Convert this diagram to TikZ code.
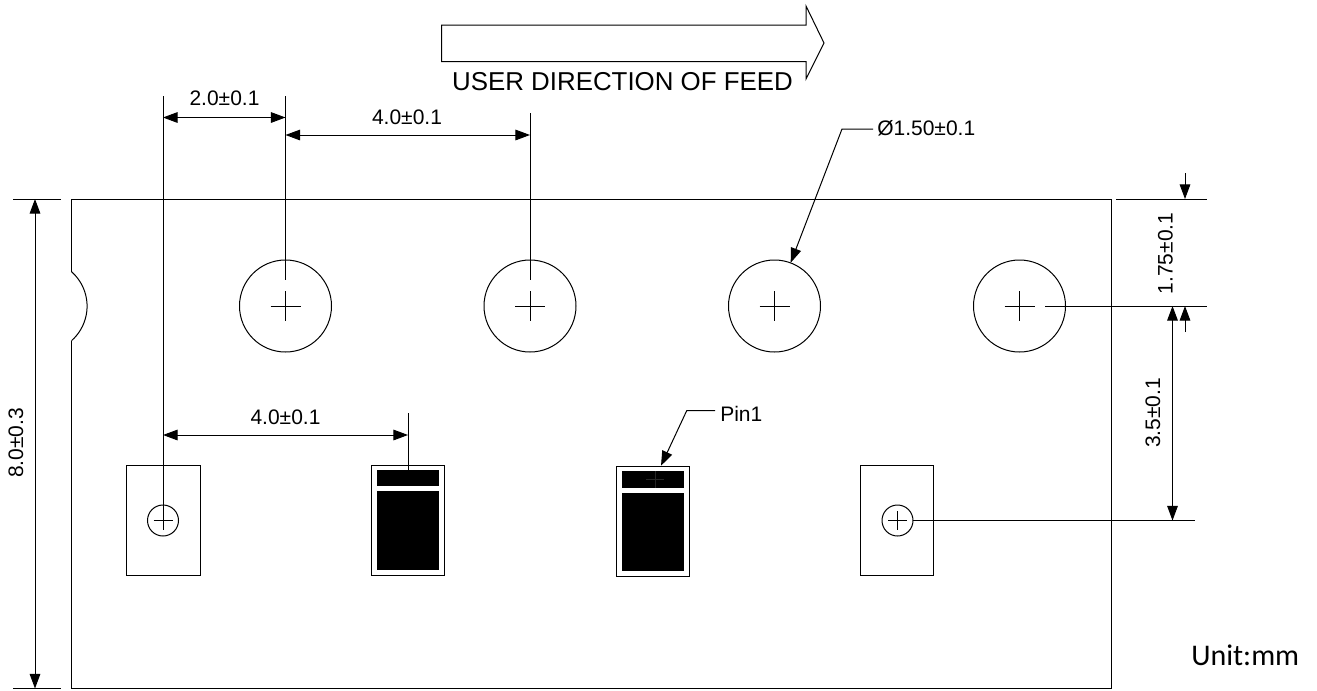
\documentclass[tikz,border=0pt]{standalone}
\usepackage{fontspec}
\setmainfont{Liberation Sans}
\newfontfamily\unitfont{Carlito}
\usetikzlibrary{arrows.meta}
\tikzset{
  ln/.style={line width=0.75pt,draw=black},
  dimline/.style={ln,{Triangle[length=11pt,width=8pt]}-{Triangle[length=11pt,width=8pt]}},
  tipend/.style={ln,-{Triangle[length=11pt,width=8pt]}},
  lbl/.style={font=\fontsize{15.75pt}{18pt}\selectfont,inner sep=0pt,text=black},
  hole/.style={circle,ln,minimum size=69pt,inner sep=0pt},
  minihole/.style={circle,ln,minimum size=23.25pt,inner sep=0pt},
  padbox/.style={rectangle,ln,minimum width=55pt,minimum height=82.5pt,inner sep=0pt},
  blk/.style={fill=black,draw=none}
}
\begin{document}
\begin{tikzpicture}[x=0.75pt,y=-0.75pt]
\useasboundingbox (0,0) rectangle (1317,690);
% tape outline with notch
\draw[ln] (71.5,271.7) -- (71.5,199) -- (1111,199) -- (1111,688.5) -- (71.5,688.5) -- (71.5,340.5);
\draw[ln] (71.5,271.7) arc[start angle=48.6,end angle=-48.6,radius=34.5pt];
% sprocket holes
\foreach \n/\x in {1/285.5,2/530,3/774.5,4/1019.5}{
  \node[hole] (h\n) at (\x,306) {};
  \draw[ln] (\x-15,306) -- (\x+15,306) (\x,291) -- (\x,321);
}
% pads
\node[padbox] (p1) at (163.5,520.7) {};
\node[padbox] (p2) at (408,520.7) {};
\node[padbox] (p3) at (652.7,521) {};
\node[padbox] (p4) at (897.2,520.5) {};
\fill[blk] (377,470) rectangle (439,486);
\fill[blk] (377,491) rectangle (439,569.5);
\fill[blk] (621.5,471) rectangle (684,488);
\fill[blk] (621.5,492.5) rectangle (684,571);
\draw[line width=0.5pt,draw=black!85] (646,479) -- (664,479) (655,471) -- (655,488);
\node[minihole] (m1) at (163,520.5) {};
\node[minihole] (m4) at (897.5,520.5) {};
\draw[ln] (153.5,520.5) -- (172.5,520.5);
\draw[ln] (888,520.5) -- (907,520.5) (897.5,511) -- (897.5,530);
% extension lines
\coordinate (e1t) at (163,96);   \coordinate (e1b) at (163,530);
\coordinate (e2t) at (285.5,96); \coordinate (e2b) at (285.5,280);
\coordinate (e3t) at (530,113);  \coordinate (e3b) at (530,280);
\coordinate (e4t) at (408,413);  \coordinate (e4b) at (408,470);
\draw[ln] (e1t) -- (e1b);
\draw[ln] (e2t) -- (e2b);
\draw[ln] (e3t) -- (e3b);
\draw[ln] (e4t) -- (e4b);
\coordinate (tl) at (13,199);  \coordinate (tr) at (61,199);
\coordinate (bl) at (13,688.5);\coordinate (br) at (61,688.5);
\draw[ln] (tl) -- (tr);
\draw[ln] (bl) -- (br);
\coordinate (r1a) at (1116,199); \coordinate (r1b) at (1207,199);
\coordinate (r2a) at (1045,306); \coordinate (r2b) at (1207,306);
\coordinate (r3a) at (913,520.5);\coordinate (r3b) at (1195,520.5);
\draw[ln] (r1a) -- (r1b);
\draw[ln] (r2a) -- (r2b);
\draw[ln] (r3a) -- (r3b);
% dimensions
\draw[dimline] (163,117.5) -- (285.5,117.5);
\draw[dimline] (285.5,135) -- (530,135);
\draw[dimline] (163,435) -- (408,435);
\draw[dimline] (35,199) -- (35,688.5);
\draw[dimline] (1172.5,306) -- (1172.5,520.5);
\coordinate (a1) at (1185,173); \coordinate (a2) at (1185,199);
\coordinate (a3) at (1185,332); \coordinate (a4) at (1185,306);
\draw[tipend] (a1) -- (a2);
\draw[tipend] (a3) -- (a4);
% leaders
\coordinate (la) at (873,129); \coordinate (lb) at (842,129); \coordinate (lc) at (790.7,262.7);
\draw[tipend] (la) -- (lb) -- (lc);
\coordinate (pa) at (715,410.7); \coordinate (pb) at (686.7,410.7); \coordinate (pc) at (661,465.7);
\draw[tipend] (pa) -- (pb) -- (pc);
% feed arrow
\draw[ln,line join=miter] (441.5,25) -- (806,25) -- (806,6) -- (824,43) -- (806,79) -- (806,61.5) -- (441.5,61.5) -- cycle;
% labels
\node[lbl,font=\fontsize{19.4pt}{22pt}\selectfont] (tfeed) at (622.5,82) {USER DIRECTION OF FEED};
\node[lbl] (t20) at (224.5,98.5) {2.0±0.1};
\node[lbl] (t40a) at (407,117) {4.0±0.1};
\node[lbl] (t40b) at (285.5,417) {4.0±0.1};
\node[lbl,anchor=west] (tdia) at (877,128) {Ø1.50±0.1};
\node[lbl,anchor=west] (tpin) at (720,414) {Pin1};
\node[lbl,rotate=90] (t80) at (16,443) {8.0±0.3};
\node[lbl,rotate=90] (t175) at (1165.5,253.5) {1.75±0.1};
\node[lbl,rotate=90] (t35) at (1153,413) {3.5±0.1};
\node[inner sep=0pt,anchor=west,font=\unitfont\fontsize{22.5pt}{26pt}\selectfont] (tunit) at (1191,655) {Unit:mm};
\end{tikzpicture}
\end{document}
